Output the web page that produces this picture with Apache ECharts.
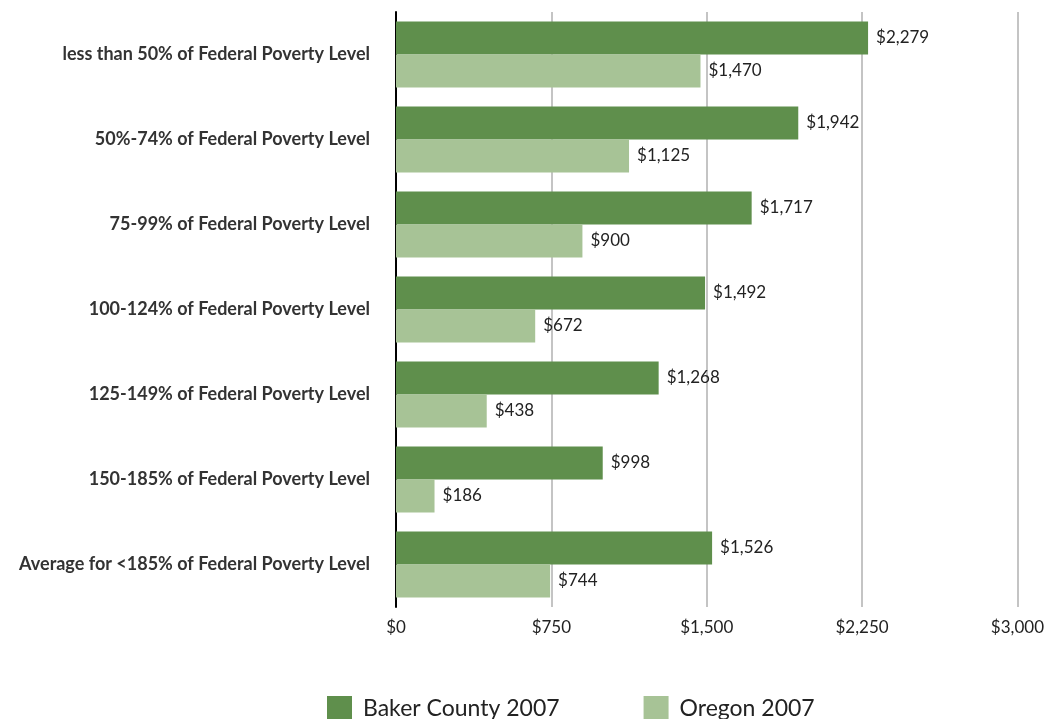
<!DOCTYPE html>
<html lang="en">
<head>
<meta charset="utf-8">
<title>Poverty Level Chart</title>
<script src="https://cdn.jsdelivr.net/npm/echarts@6/dist/echarts.min.js"></script>
<style>
    html, body { margin: 0; padding: 0; background: #fff; }
    #chart { width: 1047px; height: 719px; }
</style>
</head>
<body>
<div id="chart"></div>
<script type="text/javascript">
    let categories = [
        'less than 50% of Federal Poverty Level',
        '50%-74% of Federal Poverty Level',
        '75-99% of Federal Poverty Level',
        '100-124% of Federal Poverty Level',
        '125-149% of Federal Poverty Level',
        '150-185% of Federal Poverty Level',
        'Average for <185% of Federal Poverty Level'
    ];
    let bakerValues = [2279, 1942, 1717, 1492, 1268, 998, 1526];
    let oregonValues = [1470, 1125, 900, 672, 438, 186, 744];
    let seriesNames = ['Baker County 2007', 'Oregon 2007'];

    let fontName = 'Lato, "DejaVu Sans", sans-serif';

    function money(v){
        return '$' + v.toLocaleString('en-US');
    }

    let Chart = echarts.init(document.getElementById('chart'));

    let option = {
        animation: false,
        textStyle: { fontFamily: fontName },
        grid: {
            left: 396,
            right: 29,
            top: 12,
            bottom: 112,
            containLabel: false
        },
        legend: {
            top: 691,
            left: 322,
            itemWidth: 25,
            itemHeight: 25,
            itemGap: 84,
            icon: 'rect',
            textStyle: { fontSize: 23, color: '#222', fontFamily: fontName, padding: [0, 0, 0, 6] },
            data: seriesNames
        },
        xAxis: {
            type: 'value',
            min: 0,
            max: 3000,
            interval: 750,
            axisLine: { show: false },
            axisTick: { show: false },
            splitLine: { lineStyle: { color: '#c4c4c4', width: 2 } },
            axisLabel: {
                fontSize: 17,
                color: '#222',
                margin: 12,
                formatter: money
            }
        },
        yAxis: {
            type: 'category',
            inverse: true,
            data: categories,
            axisLine: { show: true, lineStyle: { color: '#000', width: 2 } },
            axisTick: { show: false },
            axisLabel: {
                fontSize: 18,
                fontWeight: 'bold',
                color: '#333',
                margin: 26
            }
        },
        series: [
            {
                name: seriesNames[0],
                type: 'bar',
                data: bakerValues,
                barWidth: 33,
                barGap: '0%',
                itemStyle: { color: '#5f8f4c' },
                label: {
                    show: true,
                    position: 'right',
                    distance: 8,
                    fontSize: 17,
                    color: '#222',
                    formatter: (p) => money(p.value)
                }
            },
            {
                name: seriesNames[1],
                type: 'bar',
                data: oregonValues,
                barWidth: 33,
                barGap: '0%',
                itemStyle: { color: '#a7c396' },
                label: {
                    show: true,
                    position: 'right',
                    distance: 8,
                    fontSize: 17,
                    color: '#222',
                    formatter: (p) => money(p.value)
                }
            }
        ]
    };

    Chart.setOption(option);
</script>
</body>
</html>
